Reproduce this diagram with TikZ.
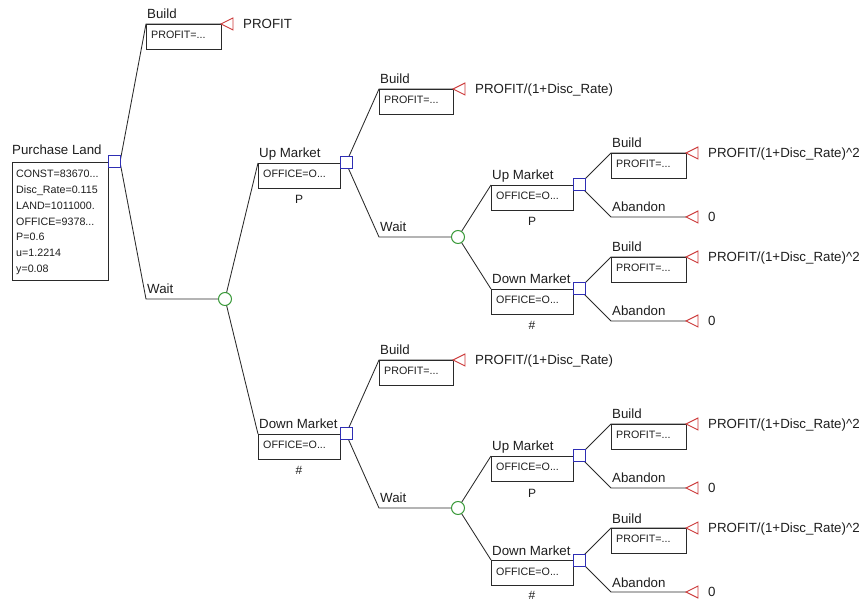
\documentclass[tikz,border=0pt]{standalone}
\usepackage{fontspec}
\setmainfont{Liberation Sans}
\definecolor{ink}{HTML}{1E1E1E}
\definecolor{wire}{HTML}{2A2A2A}
\definecolor{decblue}{HTML}{2E2EB4}
\definecolor{chgreen}{HTML}{3A9A3A}
\definecolor{endred}{HTML}{CC3A3A}
\tikzset{
  branch/.style={draw=wire, line width=0.85pt},
  decnode/.style={draw=decblue, rectangle, minimum size=12pt, inner sep=0pt, line width=1pt, fill=white},
  chnode/.style={draw=chgreen, circle, minimum size=13pt, inner sep=0pt, line width=1pt, fill=white},
  endtri/.style={draw=endred, line width=0.9pt, fill=white},
  lbl/.style={anchor=base west, inner sep=0pt, text=ink, font=\fontsize{13.3}{16}\selectfont},
  prob/.style={anchor=base, inner sep=0pt, text=ink, font=\fontsize{12}{14}\selectfont},
  valbox/.style={draw=wire, line width=0.85pt, anchor=north west, inner sep=0pt, minimum height=25pt},
  boxtxt/.style={anchor=base west, inner sep=0pt, text=ink, font=\fontsize{10.7}{13}\selectfont},
}
% value box hanging under a branch: name, corner, width, text
\newcommand\valuebox[4]{%
  \node[valbox, minimum width=#3] (#1) at (#2) {};
  \node[boxtxt] (#1t) at ([shift={(5,15)}]#2) {#4};}
% payoff triangle with its value text: name, apex, text
\newcommand\payoff[3]{%
  \draw[endtri] (#2) -- ++(12,-6) -- ++(0,12) -- cycle;
  \node[lbl] (#1) at ([shift={(22,4.8)}]#2) {#3};}
\begin{document}
\begin{tikzpicture}[x=1pt,y=-1pt]
\useasboundingbox (0,0) rectangle (868,601);

% ---------- root decision ----------
\node[lbl] (lRoot) at (12,155) {Purchase Land};
\node[valbox, minimum width=96pt, minimum height=118pt] (bRoot) at (12,162) {};
\node[boxtxt] (rv0) at (16,178.0) {CONST=83670...};
\node[boxtxt] (rv1) at (16,193.7) {Disc\_Rate=0.115};
\node[boxtxt] (rv2) at (16,209.4) {LAND=1011000.};
\node[boxtxt] (rv3) at (16,225.1) {OFFICE=9378...};
\node[boxtxt] (rv4) at (16,240.8) {P=0.6};
\node[boxtxt] (rv5) at (16,256.5) {u=1.2214};
\node[boxtxt] (rv6) at (16,272.2) {y=0.08};

\coordinate (R) at (114,162);
\coordinate (cB1) at (146,24);  \coordinate (T1) at (221,24);
\coordinate (cW1) at (146,299);
\coordinate (C1) at (225,299);

\draw[branch] ([xshift=6]R) -- (cB1) -- (T1);
\draw[branch] ([xshift=6]R) -- (cW1) -- (C1);
\valuebox{bB1}{cB1}{75pt}{PROFIT=...}
\node[lbl] (lB1) at ([shift={(1,-5)}]cB1) {Build};
\node[lbl] (lW1) at ([shift={(1,-5)}]cW1) {Wait};
\payoff{vB1}{T1}{PROFIT}

% ---------- first chance node ----------
\coordinate (cU1) at (258,163);
\coordinate (cD1) at (258,434);
\draw[branch] (C1) -- (cU1);
\draw[branch] (C1) -- (cD1);
\valuebox{bU1}{cU1}{82pt}{OFFICE=O...}
\valuebox{bD1}{cD1}{82pt}{OFFICE=O...}
\node[lbl] (lU1) at ([shift={(1,-5)}]cU1) {Up Market};
\node[lbl] (lD1) at ([shift={(1,-5)}]cD1) {Down Market};
\node[prob] (pU1) at ([shift={(41,41)}]cU1) {P};
\node[prob] (pD1) at ([shift={(41,41)}]cD1) {\#};
\coordinate (S1) at (346,163);
\coordinate (S2) at (346,434);

% ---------- second-period decisions ----------
\coordinate (cB2) at (379,89);   \coordinate (T2) at (453,89);
\coordinate (cW2) at (379,237);
\coordinate (cB3) at (379,360);  \coordinate (T3) at (453,360);
\coordinate (cW3) at (379,508);
\coordinate (C2) at (458,237);
\coordinate (C3) at (458,508);

\draw[branch] (S1) -- (cB2) -- (T2);
\draw[branch] (S1) -- (cW2) -- (C2);
\draw[branch] (S2) -- (cB3) -- (T3);
\draw[branch] (S2) -- (cW3) -- (C3);
\valuebox{bB2}{cB2}{74pt}{PROFIT=...}
\valuebox{bB3}{cB3}{74pt}{PROFIT=...}
\node[lbl] (lB2) at ([shift={(1,-5)}]cB2) {Build};
\node[lbl] (lW2) at ([shift={(1,-5)}]cW2) {Wait};
\node[lbl] (lB3) at ([shift={(1,-5)}]cB3) {Build};
\node[lbl] (lW3) at ([shift={(1,-5)}]cW3) {Wait};
\payoff{vB2}{T2}{PROFIT/(1+Disc\_Rate)}
\payoff{vB3}{T3}{PROFIT/(1+Disc\_Rate)}

% ---------- second chance nodes ----------
\coordinate (cU2) at (491,185);
\coordinate (cD2) at (491,289);
\coordinate (cU3) at (491,456);
\coordinate (cD3) at (491,560);
\draw[branch] (C2) -- (cU2);
\draw[branch] (C2) -- (cD2);
\draw[branch] (C3) -- (cU3);
\draw[branch] (C3) -- (cD3);
\valuebox{bU2}{cU2}{82pt}{OFFICE=O...}
\valuebox{bD2}{cD2}{82pt}{OFFICE=O...}
\valuebox{bU3}{cU3}{82pt}{OFFICE=O...}
\valuebox{bD3}{cD3}{82pt}{OFFICE=O...}
\node[lbl] (lU2) at ([shift={(1,-5)}]cU2) {Up Market};
\node[lbl] (lD2) at ([shift={(1,-5)}]cD2) {Down Market};
\node[lbl] (lU3) at ([shift={(1,-5)}]cU3) {Up Market};
\node[lbl] (lD3) at ([shift={(1,-5)}]cD3) {Down Market};
\node[prob] (pU2) at ([shift={(41,41)}]cU2) {P};
\node[prob] (pD2) at ([shift={(41,41)}]cD2) {\#};
\node[prob] (pU3) at ([shift={(41,41)}]cU3) {P};
\node[prob] (pD3) at ([shift={(41,39)}]cD3) {\#};

% ---------- third-period decisions ----------
\foreach \s/\y in {S3/185,S4/289,S5/456,S6/560} {
  \coordinate (\s) at (579,\y);
  \coordinate (cB\s) at (611,\y-32);  \coordinate (TB\s) at (686,\y-32);
  \coordinate (cA\s) at (611,\y+32);  \coordinate (TA\s) at (686,\y+32);
  \draw[branch] (\s) -- (cB\s) -- (TB\s);
  \draw[branch] (\s) -- (cA\s) -- (TA\s);
  \valuebox{bB\s}{cB\s}{75pt}{PROFIT=...}
  \node[lbl] (lB\s) at ([shift={(1,-5)}]cB\s) {Build};
  \node[lbl] (lA\s) at ([shift={(1,-5)}]cA\s) {Abandon};
  \payoff{vB\s}{TB\s}{PROFIT/(1+Disc\_Rate)\textasciicircum 2}
  \payoff{vA\s}{TA\s}{0}
}

% ---------- node symbols, drawn over the branch ends ----------
\node[decnode] (nR) at (R) {};
\foreach \s in {S1,S2,S3,S4,S5,S6}
  \node[decnode] (n\s) at (\s) {};
\foreach \c in {C1,C2,C3}
  \node[chnode] (n\c) at (\c) {};
\end{tikzpicture}
\end{document}
